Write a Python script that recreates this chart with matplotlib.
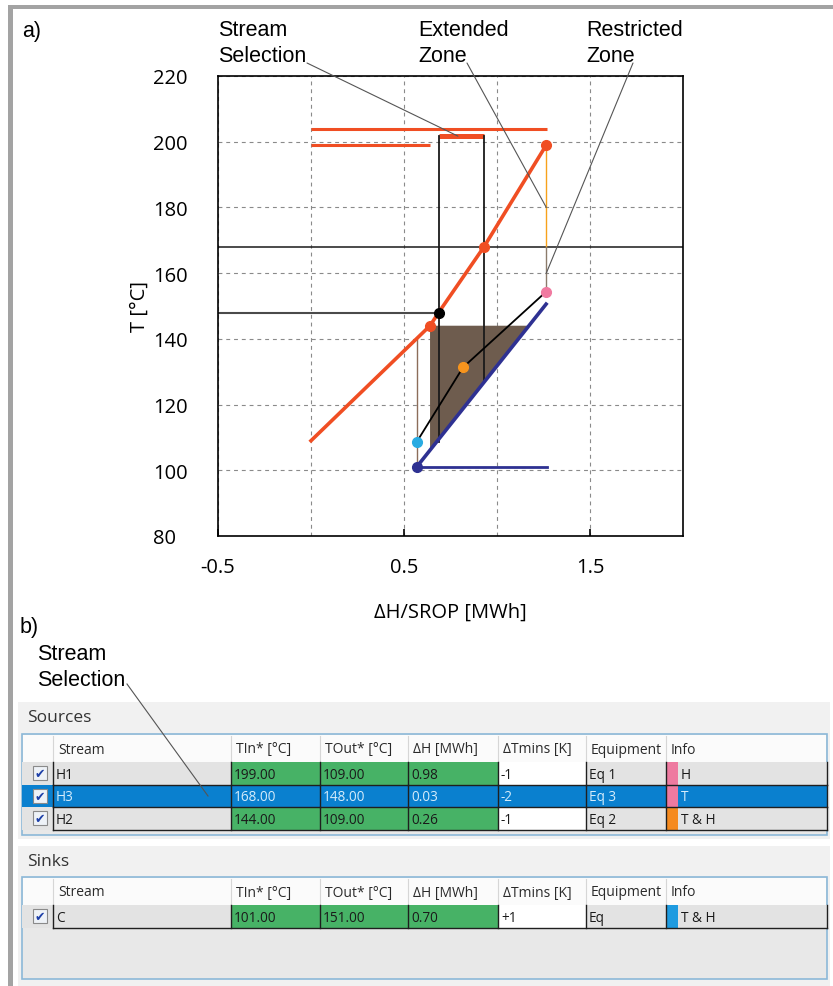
import matplotlib
matplotlib.use('Agg')
import matplotlib.pyplot as plt
from matplotlib.patches import Rectangle, Polygon, ConnectionPatch

# ---------------- data ----------------
hot_dh = [0.0, 0.64, 0.686, 0.93, 1.265]
hot_t = [109, 144, 148, 168, 199]
hot_marker_dh = [0.64, 0.93, 1.265]
hot_marker_t = [144, 168, 199]
pinch_dh, pinch_t = 0.686, 148

cold_dh = [0.568, 1.27]
cold_t = [101, 151]
cold_base_t = 101

shift_dh = [0.568, 0.817, 1.265]
shift_t = [108.6, 131.3, 154.4]
shift_colors = ['#29abe2', '#f7941d', '#f07aa0']

zone_dh = [0.64, 1.17, 0.64]
zone_t = [144, 144, 106.5]

level_t = [204, 199]
level_x0 = [0.0, 0.0]
level_x1 = [1.27, 0.64]

sel_t = 201.7
sel_dh = [0.686, 0.93]
sel_bottom_t = [108.5, 127.6]

limit_dh = 1.265
extended_t = [199, 168]
restricted_t = [168, 154.4]
cold_start_top_t = 140.2

x_ticks = [-0.5, 0.5, 1.5]
x_grid = [0.0, 1.0]
y_ticks = [80, 100, 120, 140, 160, 180, 200, 220]

headers = ["Stream", "TIn* [°C]", "TOut* [°C]", "ΔH [MWh]", "ΔTmins [K]", "Equipment", "Info"]
src_stream = ["H1", "H3", "H2"]
src_tin = [199.00, 168.00, 144.00]
src_tout = [109.00, 148.00, 109.00]
src_dh = [0.98, 0.03, 0.26]
src_dtmin = ["-1", "-2", "-1"]
src_eq = ["Eq 1", "Eq 3", "Eq 2"]
src_info = ["H", "T", "T & H"]
src_info_col = ['#ee7aa0', '#ee7aa0', '#f58a1f']
src_selected = 1

snk_stream = ["C"]
snk_tin = [101.00]
snk_tout = [151.00]
snk_dh = [0.70]
snk_dtmin = ["+1"]
snk_eq = ["Eq"]
snk_info = ["T & H"]
snk_info_col = ['#1e9be0']

# ---------------- figure ----------------
W, H = 833, 987
fig = plt.figure(figsize=(W / 100, H / 100), dpi=100)
fig.patch.set_facecolor('white')

ax = fig.add_axes([218 / W, 1 - 537 / H, 465 / W, 460 / H])
ax.set_xlim(-0.5, 2.0)
ax.set_ylim(80, 220)

RED = '#f04e23'
BLUE = '#2e3192'

# grid
for gx in x_grid + x_ticks:
    ax.axvline(gx, color='#8a8a8a', lw=0.8, ls=(0, (3.5, 3.5)), zorder=0)
for gy in y_ticks:
    ax.axhline(gy, color='#8a8a8a', lw=0.8, ls=(0, (3.5, 3.5)), zorder=0)

# zone fill
ax.add_patch(Polygon(list(zip(zone_dh, zone_t)), closed=True, facecolor='#6e5c4e',
                     edgecolor='none', zorder=1))

# horizontal reference lines
ax.axhline(hot_t[3], color='#1a1a1a', lw=1.1, zorder=2)
ax.plot([-0.5, pinch_dh], [pinch_t, pinch_t], color='#4a4a4a', lw=1.5, zorder=2)

# levels
for t, a, b in zip(level_t, level_x0, level_x1):
    ax.plot([a, b], [t, t], color=RED, lw=2.2, solid_capstyle='butt', zorder=3)
ax.plot(sel_dh, [sel_t, sel_t], color=RED, lw=3.6, solid_capstyle='butt', zorder=3)
for x, tb in zip(sel_dh, sel_bottom_t):
    ax.plot([x, x], [sel_t, tb], color='#1a1a1a', lw=1.3, zorder=3)

# limit verticals
ax.plot([limit_dh, limit_dh], extended_t, color='#f7a21b', lw=1.0, zorder=2)
ax.plot([limit_dh, limit_dh], restricted_t, color='#8c7b6b', lw=1.0, zorder=2)
ax.plot([cold_dh[0], cold_dh[0]], [cold_t[0], cold_start_top_t], color='#8c6d5a', lw=1.0, zorder=2)

# cold stream
ax.plot([cold_dh[0], cold_dh[1]], [cold_base_t, cold_base_t], color=BLUE, lw=2.0, zorder=3)
ax.plot(cold_dh, cold_t, color=BLUE, lw=2.6, solid_capstyle='butt', zorder=4)

# hot composite
ax.plot(hot_dh, hot_t, color=RED, lw=2.6, zorder=5)
ax.plot(hot_marker_dh, hot_marker_t, 'o', color=RED, ms=7, zorder=6)
ax.plot([pinch_dh], [pinch_t], 'o', color='black', ms=7, zorder=7)

# shifted line
ax.plot(shift_dh, shift_t, color='black', lw=1.3, zorder=6)
for x, t, c in zip(shift_dh, shift_t, shift_colors):
    ax.plot([x], [t], 'o', color=c, ms=7, zorder=7)
ax.plot([cold_dh[0]], [cold_t[0]], 'o', color=BLUE, ms=7, zorder=7)

# axes styling
ax.set_xticks(x_ticks)
ax.set_xticklabels(['-0.5', '0.5', '1.5'])
ax.set_yticks(y_ticks)
ax.tick_params(axis='both', direction='in', length=5, width=1.2, labelsize=14.5)
ax.tick_params(axis='x', pad=15)
ax.tick_params(axis='y', pad=47, length=0)
for lbl in ax.get_yticklabels():
    lbl.set_horizontalalignment('left')
    lbl.set_family('Open Sans')
for lbl in ax.get_xticklabels():
    lbl.set_family('Open Sans')
for s in ax.spines.values():
    s.set_linewidth(1.2)
ax.set_xlabel('ΔH/SROP [MWh]', fontsize=14.5, family='Open Sans', labelpad=18)
ax.set_ylabel('T [°C]', fontsize=14.5, family='Open Sans')
ax.yaxis.set_label_coords((150 - 218) / 465, 0.5)

# ---------------- overlay in pixel coords ----------------
ov = fig.add_axes([0, 0, 1, 1], zorder=10)
ov.set_xlim(0, W)
ov.set_ylim(H, 0)
ov.axis('off')
ov.patch.set_alpha(0)

# frame
ov.add_patch(Rectangle((8, 6), 5, H, facecolor='#a3a3a3', edgecolor='none'))
ov.add_patch(Rectangle((8, 6), W, 4, facecolor='#a3a3a3', edgecolor='none'))

AF = 'Liberation Sans'
ov.text(22, 31, 'a)', fontsize=15.5, family=AF, va='center', ha='left')
ov.text(218, 31, 'Stream', fontsize=15.5, family=AF, va='center')
ov.text(218, 57, 'Selection', fontsize=15.5, family=AF, va='center')
ov.text(418, 31, 'Extended', fontsize=15.5, family=AF, va='center')
ov.text(418, 57, 'Zone', fontsize=15.5, family=AF, va='center')
ov.text(586, 31, 'Restricted', fontsize=15.5, family=AF, va='center')
ov.text(586, 57, 'Zone', fontsize=15.5, family=AF, va='center')

def leader(px, py, dx, dy):
    cp = ConnectionPatch(xyA=(px, py), coordsA=ov.transData, xyB=(dx, dy), coordsB=ax.transData,
                         color='#555555', lw=0.8, zorder=20)
    fig.add_artist(cp)

leader(307, 64, 0.79, sel_t)
leader(467, 64, limit_dh, 180)
leader(633, 64, limit_dh, 160)

ov.text(20, 628, 'b)', fontsize=15.5, family=AF, va='center', ha='left')
ov.text(37, 654, 'Stream', fontsize=15.5, family=AF, va='center')
ov.text(37, 681, 'Selection', fontsize=15.5, family=AF, va='center')

# ---------------- tables ----------------
cols = [22, 53, 231, 320, 408, 498, 586, 666, 827]
TF = 'Open Sans'
GRAY = '#e3e3e3'
GREEN = '#47b266'
SELB = '#0a80cf'
col_bg = [GRAY, GRAY, GREEN, GREEN, GREEN, 'white', GRAY, GRAY]


def draw_table(title, title_y, panel_top, panel_bot, top, bot, rows, info_cols, selected=None):
    ov.add_patch(Rectangle((18, panel_top), 812, panel_bot - panel_top, facecolor='#f1f1f1',
                           edgecolor='none'))
    ov.text(27, title_y, title, fontsize=12.5, family=TF, va='center', color='#333333')
    ov.add_patch(Rectangle((22, top), cols[-1] - 22, bot - top, facecolor='#e8e8e8',
                           edgecolor='#8cb8d8', lw=1.2))
    hh = 28
    ov.add_patch(Rectangle((23, top + 1), cols[-1] - 24, hh - 1, facecolor='#fbfbfb',
                           edgecolor='none'))
    for c in cols[1:-1]:
        ov.plot([c, c], [top + 2, top + hh], color='#d6d6d6', lw=0.8)
    for i, h in enumerate(headers):
        ov.text(cols[i + 1] + 5, top + hh / 2 + 1, h, fontsize=10, family=TF, va='center',
                color='#2a2a2a')
    rh = 22.5
    for r, vals in enumerate(rows):
        y0 = top + hh + r * rh
        sel = (r == selected)
        for j in range(8):
            fc = SELB if sel else col_bg[j]
            ov.add_patch(Rectangle((cols[j], y0), cols[j + 1] - cols[j], rh, facecolor=fc,
                                   edgecolor='none'))
        # info colour mark
        ov.add_patch(Rectangle((cols[7], y0), 12, rh, facecolor=info_cols[r], edgecolor='none'))
        # checkbox
        ov.add_patch(Rectangle((33, y0 + 4), 14, 14, facecolor='#eef2f7', edgecolor='#8a8a8a',
                               lw=0.8))
        ov.text(40, y0 + rh / 2 + 0.5, '✔', fontsize=9, color='#1d3fa8',
                family='DejaVu Sans', ha='center', va='center')
        tc = '#d5ecfb' if sel else '#1a1a1a'
        for j, v in enumerate(vals):
            xo = cols[j + 1] + 3 if j < 6 else cols[7] + 15
            ov.text(xo, y0 + rh / 2 + 1, v, fontsize=9.8, family=TF, va='center', color=tc)
        # grid lines
        ov.plot([cols[1], cols[-1]], [y0 + rh, y0 + rh], color='#1f1f1f', lw=1.0)
        for c in cols[1:]:
            ov.plot([c, c], [y0, y0 + rh], color='#1f1f1f', lw=1.0)


src_rows = [[s, '%.2f' % a, '%.2f' % b, '%.2f' % d, m, e, i]
            for s, a, b, d, m, e, i in zip(src_stream, src_tin, src_tout, src_dh, src_dtmin,
                                           src_eq, src_info)]
snk_rows = [[s, '%.2f' % a, '%.2f' % b, '%.2f' % d, m, e, i]
            for s, a, b, d, m, e, i in zip(snk_stream, snk_tin, snk_tout, snk_dh, snk_dtmin,
                                           snk_eq, snk_info)]

draw_table('Sources', 718, 703, 840, 735, 836, src_rows, src_info_col, selected=src_selected)
draw_table('Sinks', 862, 847, 987, 878, 980, snk_rows, snk_info_col)

# bottom leader
ov.plot([127, 208], [685, 797], color='#555555', lw=0.8, zorder=30)

fig.savefig('out.png', dpi=100)
